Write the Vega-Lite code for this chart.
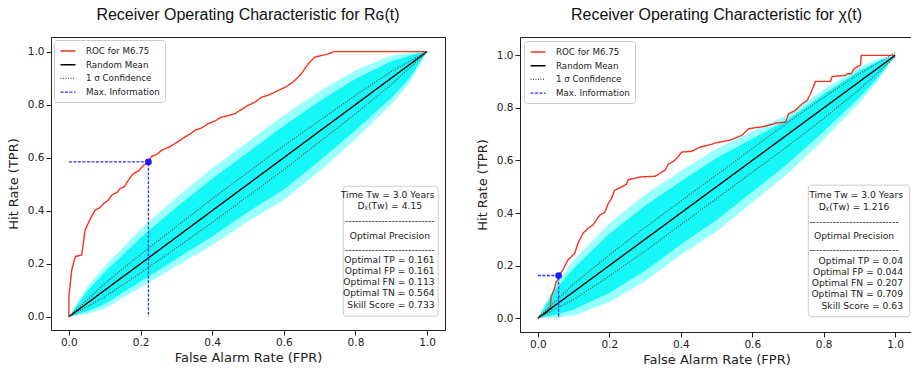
{
"$schema": "https://vega.github.io/schema/vega-lite/v6.json",
"padding": {"left": 6, "top": 6, "right": 0, "bottom": 0},
"spacing": 29,
"datasets": {
"lines": [
{"p":"L","s":"ROC for M6.75","g":"m","x":0,"y":0},{"p":"L","s":"ROC for M6.75","g":"m","x":0,"y":0.076},{"p":"L","s":"ROC for M6.75","g":"m","x":0.008,"y":0.177},{"p":"L","s":"ROC for M6.75","g":"m","x":0.018,"y":0.227},{"p":"L","s":"ROC for M6.75","g":"m","x":0.036,"y":0.233},{"p":"L","s":"ROC for M6.75","g":"m","x":0.045,"y":0.327},{"p":"L","s":"ROC for M6.75","g":"m","x":0.06,"y":0.37},{"p":"L","s":"ROC for M6.75","g":"m","x":0.073,"y":0.402},{"p":"L","s":"ROC for M6.75","g":"m","x":0.085,"y":0.41},{"p":"L","s":"ROC for M6.75","g":"m","x":0.097,"y":0.427},{"p":"L","s":"ROC for M6.75","g":"m","x":0.11,"y":0.44},{"p":"L","s":"ROC for M6.75","g":"m","x":0.12,"y":0.459},{"p":"L","s":"ROC for M6.75","g":"m","x":0.135,"y":0.47},{"p":"L","s":"ROC for M6.75","g":"m","x":0.143,"y":0.484},{"p":"L","s":"ROC for M6.75","g":"m","x":0.155,"y":0.49},{"p":"L","s":"ROC for M6.75","g":"m","x":0.166,"y":0.515},{"p":"L","s":"ROC for M6.75","g":"m","x":0.18,"y":0.54},{"p":"L","s":"ROC for M6.75","g":"m","x":0.195,"y":0.55},{"p":"L","s":"ROC for M6.75","g":"m","x":0.208,"y":0.571},{"p":"L","s":"ROC for M6.75","g":"m","x":0.222,"y":0.584},{"p":"L","s":"ROC for M6.75","g":"m","x":0.231,"y":0.605},{"p":"L","s":"ROC for M6.75","g":"m","x":0.245,"y":0.612},{"p":"L","s":"ROC for M6.75","g":"m","x":0.259,"y":0.628},{"p":"L","s":"ROC for M6.75","g":"m","x":0.28,"y":0.64},{"p":"L","s":"ROC for M6.75","g":"m","x":0.296,"y":0.653},{"p":"L","s":"ROC for M6.75","g":"m","x":0.31,"y":0.665},{"p":"L","s":"ROC for M6.75","g":"m","x":0.324,"y":0.678},{"p":"L","s":"ROC for M6.75","g":"m","x":0.34,"y":0.69},{"p":"L","s":"ROC for M6.75","g":"m","x":0.352,"y":0.703},{"p":"L","s":"ROC for M6.75","g":"m","x":0.37,"y":0.712},{"p":"L","s":"ROC for M6.75","g":"m","x":0.389,"y":0.728},{"p":"L","s":"ROC for M6.75","g":"m","x":0.41,"y":0.74},{"p":"L","s":"ROC for M6.75","g":"m","x":0.426,"y":0.753},{"p":"L","s":"ROC for M6.75","g":"m","x":0.445,"y":0.758},{"p":"L","s":"ROC for M6.75","g":"m","x":0.463,"y":0.766},{"p":"L","s":"ROC for M6.75","g":"m","x":0.48,"y":0.78},{"p":"L","s":"ROC for M6.75","g":"m","x":0.5,"y":0.797},{"p":"L","s":"ROC for M6.75","g":"m","x":0.52,"y":0.81},{"p":"L","s":"ROC for M6.75","g":"m","x":0.538,"y":0.828},{"p":"L","s":"ROC for M6.75","g":"m","x":0.555,"y":0.835},{"p":"L","s":"ROC for M6.75","g":"m","x":0.575,"y":0.847},{"p":"L","s":"ROC for M6.75","g":"m","x":0.595,"y":0.86},{"p":"L","s":"ROC for M6.75","g":"m","x":0.612,"y":0.872},{"p":"L","s":"ROC for M6.75","g":"m","x":0.63,"y":0.89},{"p":"L","s":"ROC for M6.75","g":"m","x":0.649,"y":0.916},{"p":"L","s":"ROC for M6.75","g":"m","x":0.658,"y":0.935},{"p":"L","s":"ROC for M6.75","g":"m","x":0.668,"y":0.953},{"p":"L","s":"ROC for M6.75","g":"m","x":0.686,"y":0.979},{"p":"L","s":"ROC for M6.75","g":"m","x":0.705,"y":0.985},{"p":"L","s":"ROC for M6.75","g":"m","x":0.723,"y":0.991},{"p":"L","s":"ROC for M6.75","g":"m","x":0.74,"y":1.0},{"p":"L","s":"ROC for M6.75","g":"m","x":1.0,"y":1.0},
{"p":"L","s":"Random Mean","g":"m","x":0,"y":0},{"p":"L","s":"Random Mean","g":"m","x":1,"y":1},
{"p":"L","s":"1 σ Confidence","g":"u","x":0,"y":0},{"p":"L","s":"1 σ Confidence","g":"u","x":0.1,"y":0.125},{"p":"L","s":"1 σ Confidence","g":"u","x":0.2,"y":0.235},{"p":"L","s":"1 σ Confidence","g":"u","x":0.3,"y":0.34},{"p":"L","s":"1 σ Confidence","g":"u","x":0.4,"y":0.445},{"p":"L","s":"1 σ Confidence","g":"u","x":0.5,"y":0.545},{"p":"L","s":"1 σ Confidence","g":"u","x":0.6,"y":0.645},{"p":"L","s":"1 σ Confidence","g":"u","x":0.7,"y":0.74},{"p":"L","s":"1 σ Confidence","g":"u","x":0.8,"y":0.835},{"p":"L","s":"1 σ Confidence","g":"u","x":0.9,"y":0.925},{"p":"L","s":"1 σ Confidence","g":"u","x":1,"y":1},
{"p":"L","s":"1 σ Confidence","g":"l","x":0,"y":0},{"p":"L","s":"1 σ Confidence","g":"l","x":0.1,"y":0.075},{"p":"L","s":"1 σ Confidence","g":"l","x":0.2,"y":0.165},{"p":"L","s":"1 σ Confidence","g":"l","x":0.3,"y":0.26},{"p":"L","s":"1 σ Confidence","g":"l","x":0.4,"y":0.355},{"p":"L","s":"1 σ Confidence","g":"l","x":0.5,"y":0.455},{"p":"L","s":"1 σ Confidence","g":"l","x":0.6,"y":0.555},{"p":"L","s":"1 σ Confidence","g":"l","x":0.7,"y":0.66},{"p":"L","s":"1 σ Confidence","g":"l","x":0.8,"y":0.765},{"p":"L","s":"1 σ Confidence","g":"l","x":0.9,"y":0.875},{"p":"L","s":"1 σ Confidence","g":"l","x":1,"y":1},
{"p":"L","s":"Max. Information","g":"m","x":0,"y":0.584},{"p":"L","s":"Max. Information","g":"m","x":0.222,"y":0.584},{"p":"L","s":"Max. Information","g":"m","x":0.222,"y":0},
{"p":"R","s":"ROC for M6.75","g":"m","x":0,"y":0},{"p":"R","s":"ROC for M6.75","g":"m","x":0.028,"y":0.024},{"p":"R","s":"ROC for M6.75","g":"m","x":0.035,"y":0.043},{"p":"R","s":"ROC for M6.75","g":"m","x":0.037,"y":0.081},{"p":"R","s":"ROC for M6.75","g":"m","x":0.047,"y":0.113},{"p":"R","s":"ROC for M6.75","g":"m","x":0.051,"y":0.138},{"p":"R","s":"ROC for M6.75","g":"m","x":0.056,"y":0.144},{"p":"R","s":"ROC for M6.75","g":"m","x":0.058,"y":0.162},{"p":"R","s":"ROC for M6.75","g":"m","x":0.07,"y":0.183},{"p":"R","s":"ROC for M6.75","g":"m","x":0.084,"y":0.221},{"p":"R","s":"ROC for M6.75","g":"m","x":0.103,"y":0.246},{"p":"R","s":"ROC for M6.75","g":"m","x":0.112,"y":0.284},{"p":"R","s":"ROC for M6.75","g":"m","x":0.126,"y":0.322},{"p":"R","s":"ROC for M6.75","g":"m","x":0.14,"y":0.341},{"p":"R","s":"ROC for M6.75","g":"m","x":0.154,"y":0.354},{"p":"R","s":"ROC for M6.75","g":"m","x":0.173,"y":0.392},{"p":"R","s":"ROC for M6.75","g":"m","x":0.187,"y":0.402},{"p":"R","s":"ROC for M6.75","g":"m","x":0.197,"y":0.436},{"p":"R","s":"ROC for M6.75","g":"m","x":0.206,"y":0.455},{"p":"R","s":"ROC for M6.75","g":"m","x":0.215,"y":0.487},{"p":"R","s":"ROC for M6.75","g":"m","x":0.234,"y":0.499},{"p":"R","s":"ROC for M6.75","g":"m","x":0.248,"y":0.51},{"p":"R","s":"ROC for M6.75","g":"m","x":0.253,"y":0.527},{"p":"R","s":"ROC for M6.75","g":"m","x":0.286,"y":0.537},{"p":"R","s":"ROC for M6.75","g":"m","x":0.328,"y":0.54},{"p":"R","s":"ROC for M6.75","g":"m","x":0.356,"y":0.563},{"p":"R","s":"ROC for M6.75","g":"m","x":0.365,"y":0.586},{"p":"R","s":"ROC for M6.75","g":"m","x":0.384,"y":0.601},{"p":"R","s":"ROC for M6.75","g":"m","x":0.403,"y":0.632},{"p":"R","s":"ROC for M6.75","g":"m","x":0.431,"y":0.635},{"p":"R","s":"ROC for M6.75","g":"m","x":0.454,"y":0.651},{"p":"R","s":"ROC for M6.75","g":"m","x":0.482,"y":0.66},{"p":"R","s":"ROC for M6.75","g":"m","x":0.501,"y":0.668},{"p":"R","s":"ROC for M6.75","g":"m","x":0.538,"y":0.677},{"p":"R","s":"ROC for M6.75","g":"m","x":0.571,"y":0.696},{"p":"R","s":"ROC for M6.75","g":"m","x":0.59,"y":0.721},{"p":"R","s":"ROC for M6.75","g":"m","x":0.632,"y":0.729},{"p":"R","s":"ROC for M6.75","g":"m","x":0.651,"y":0.736},{"p":"R","s":"ROC for M6.75","g":"m","x":0.669,"y":0.743},{"p":"R","s":"ROC for M6.75","g":"m","x":0.693,"y":0.746},{"p":"R","s":"ROC for M6.75","g":"m","x":0.702,"y":0.778},{"p":"R","s":"ROC for M6.75","g":"m","x":0.72,"y":0.79},{"p":"R","s":"ROC for M6.75","g":"m","x":0.74,"y":0.816},{"p":"R","s":"ROC for M6.75","g":"m","x":0.754,"y":0.829},{"p":"R","s":"ROC for M6.75","g":"m","x":0.763,"y":0.854},{"p":"R","s":"ROC for M6.75","g":"m","x":0.777,"y":0.901},{"p":"R","s":"ROC for M6.75","g":"m","x":0.819,"y":0.901},{"p":"R","s":"ROC for M6.75","g":"m","x":0.824,"y":0.92},{"p":"R","s":"ROC for M6.75","g":"m","x":0.861,"y":0.924},{"p":"R","s":"ROC for M6.75","g":"m","x":0.866,"y":0.93},{"p":"R","s":"ROC for M6.75","g":"m","x":0.877,"y":0.93},{"p":"R","s":"ROC for M6.75","g":"m","x":0.885,"y":0.949},{"p":"R","s":"ROC for M6.75","g":"m","x":0.896,"y":0.958},{"p":"R","s":"ROC for M6.75","g":"m","x":0.903,"y":0.962},{"p":"R","s":"ROC for M6.75","g":"m","x":0.905,"y":1.0},{"p":"R","s":"ROC for M6.75","g":"m","x":1.0,"y":1.0},
{"p":"R","s":"Random Mean","g":"m","x":0,"y":0},{"p":"R","s":"Random Mean","g":"m","x":1,"y":1},
{"p":"R","s":"1 σ Confidence","g":"u","x":0,"y":0},{"p":"R","s":"1 σ Confidence","g":"u","x":0.1,"y":0.13},{"p":"R","s":"1 σ Confidence","g":"u","x":0.2,"y":0.24},{"p":"R","s":"1 σ Confidence","g":"u","x":0.3,"y":0.345},{"p":"R","s":"1 σ Confidence","g":"u","x":0.4,"y":0.445},{"p":"R","s":"1 σ Confidence","g":"u","x":0.5,"y":0.545},{"p":"R","s":"1 σ Confidence","g":"u","x":0.6,"y":0.645},{"p":"R","s":"1 σ Confidence","g":"u","x":0.7,"y":0.745},{"p":"R","s":"1 σ Confidence","g":"u","x":0.8,"y":0.84},{"p":"R","s":"1 σ Confidence","g":"u","x":0.9,"y":0.93},{"p":"R","s":"1 σ Confidence","g":"u","x":1,"y":1.01},
{"p":"R","s":"1 σ Confidence","g":"l","x":0,"y":0},{"p":"R","s":"1 σ Confidence","g":"l","x":0.1,"y":0.07},{"p":"R","s":"1 σ Confidence","g":"l","x":0.2,"y":0.16},{"p":"R","s":"1 σ Confidence","g":"l","x":0.3,"y":0.255},{"p":"R","s":"1 σ Confidence","g":"l","x":0.4,"y":0.355},{"p":"R","s":"1 σ Confidence","g":"l","x":0.5,"y":0.455},{"p":"R","s":"1 σ Confidence","g":"l","x":0.6,"y":0.555},{"p":"R","s":"1 σ Confidence","g":"l","x":0.7,"y":0.655},{"p":"R","s":"1 σ Confidence","g":"l","x":0.8,"y":0.76},{"p":"R","s":"1 σ Confidence","g":"l","x":0.9,"y":0.87},{"p":"R","s":"1 σ Confidence","g":"l","x":1,"y":0.995},
{"p":"R","s":"Max. Information","g":"m","x":0,"y":0.162},{"p":"R","s":"Max. Information","g":"m","x":0.058,"y":0.162},{"p":"R","s":"Max. Information","g":"m","x":0.058,"y":0}
],
"band": [
{"p":"L","x":0,"lo":0,"hi":0,"clo":0,"chi":0},{"p":"L","x":0.05,"lo":0.01,"hi":0.11,"clo":0.02,"chi":0.095},{"p":"L","x":0.1,"lo":0.03,"hi":0.19,"clo":0.048,"chi":0.168},{"p":"L","x":0.2,"lo":0.11,"hi":0.33,"clo":0.133,"chi":0.298},{"p":"L","x":0.3,"lo":0.19,"hi":0.45,"clo":0.218,"chi":0.413},{"p":"L","x":0.4,"lo":0.27,"hi":0.56,"clo":0.303,"chi":0.52},{"p":"L","x":0.5,"lo":0.36,"hi":0.66,"clo":0.395,"chi":0.62},{"p":"L","x":0.6,"lo":0.44,"hi":0.76,"clo":0.48,"chi":0.72},{"p":"L","x":0.7,"lo":0.55,"hi":0.85,"clo":0.588,"chi":0.813},{"p":"L","x":0.8,"lo":0.67,"hi":0.93,"clo":0.703,"chi":0.898},{"p":"L","x":0.9,"lo":0.8,"hi":0.985,"clo":0.825,"chi":0.964},{"p":"L","x":0.95,"lo":0.88,"hi":0.995,"clo":0.898,"chi":0.984},{"p":"L","x":1,"lo":1,"hi":1,"clo":1,"chi":1},
{"p":"R","x":0,"lo":0,"hi":0,"clo":0,"chi":0},{"p":"R","x":0.05,"lo":0.0,"hi":0.13,"clo":0.013,"chi":0.11},{"p":"R","x":0.1,"lo":0.01,"hi":0.22,"clo":0.033,"chi":0.19},{"p":"R","x":0.2,"lo":0.06,"hi":0.36,"clo":0.095,"chi":0.32},{"p":"R","x":0.3,"lo":0.14,"hi":0.47,"clo":0.18,"chi":0.428},{"p":"R","x":0.4,"lo":0.24,"hi":0.56,"clo":0.28,"chi":0.52},{"p":"R","x":0.5,"lo":0.33,"hi":0.645,"clo":0.373,"chi":0.609},{"p":"R","x":0.6,"lo":0.44,"hi":0.71,"clo":0.48,"chi":0.683},{"p":"R","x":0.7,"lo":0.55,"hi":0.775,"clo":0.588,"chi":0.756},{"p":"R","x":0.8,"lo":0.68,"hi":0.87,"clo":0.71,"chi":0.853},{"p":"R","x":0.9,"lo":0.82,"hi":0.955,"clo":0.84,"chi":0.941},{"p":"R","x":0.95,"lo":0.9,"hi":0.985,"clo":0.913,"chi":0.976},{"p":"R","x":1,"lo":1,"hi":1,"clo":1,"chi":1}
],
"pts": [{"p":"L","x":0.222,"y":0.584},{"p":"R","x":0.058,"y":0.162}],
"boxes": [{"p":"L","x":0.766,"x2":1.031,"y":0.002,"y2":0.492},{"p":"R","x":0.757,"x2":1.041,"y":0.005,"y2":0.506}],
"notes": [
{"p":"L","a":"r","x":1.021,"y":0.46,"t":"Time Tᴡ = 3.0 Years"},
{"p":"L","a":"c","x":0.896,"y":0.416,"t":"Dᵪ(Tᴡ) = 4.15"},
{"p":"L","a":"c","x":0.896,"y":0.36,"t":"---------------------------"},
{"p":"L","a":"c","x":0.896,"y":0.303,"t":"Optimal Precision"},
{"p":"L","a":"c","x":0.896,"y":0.253,"t":"---------------------------"},
{"p":"L","a":"r","x":1.021,"y":0.213,"t":"Optimal TP = 0.161"},
{"p":"L","a":"r","x":1.021,"y":0.172,"t":"Optimal FP = 0.161"},
{"p":"L","a":"r","x":1.021,"y":0.13,"t":"Optimal FN = 0.113"},
{"p":"L","a":"r","x":1.021,"y":0.088,"t":"Optimal TN = 0.564"},
{"p":"L","a":"r","x":1.021,"y":0.043,"t":"Skill Score = 0.733"},
{"p":"R","a":"r","x":1.022,"y":0.468,"t":"Time Tᴡ = 3.0 Years"},
{"p":"R","a":"c","x":0.885,"y":0.423,"t":"Dᵪ(Tᴡ) = 1.216"},
{"p":"R","a":"c","x":0.885,"y":0.366,"t":"---------------------------"},
{"p":"R","a":"c","x":0.885,"y":0.312,"t":"Optimal Precision"},
{"p":"R","a":"c","x":0.885,"y":0.259,"t":"---------------------------"},
{"p":"R","a":"r","x":1.022,"y":0.217,"t":"Optimal TP = 0.04"},
{"p":"R","a":"r","x":1.022,"y":0.176,"t":"Optimal FP = 0.044"},
{"p":"R","a":"r","x":1.022,"y":0.132,"t":"Optimal FN = 0.207"},
{"p":"R","a":"r","x":1.022,"y":0.09,"t":"Optimal TN = 0.709"},
{"p":"R","a":"r","x":1.022,"y":0.046,"t":"Skill Score = 0.63"}
]
},
"config": {
"view": {"stroke": "#222222", "strokeWidth": 1},
"axis": {"domain": false, "grid": false, "labelFont": "DejaVu Sans", "labelFontSize": 10.5, "labelColor": "#222222", "titleFont": "DejaVu Sans", "titleFontSize": 13, "titleFontWeight": "normal", "titleColor": "#222222", "tickColor": "#222222", "labelPadding": 2, "labelFlush": false, "labelOverlap": false},
"axisX": {"titlePadding": 4},
"axisY": {"titlePadding": 7},
"title": {"font": "Liberation Sans", "fontSize": 16, "fontWeight": "normal", "color": "#111111", "offset": 14, "anchor": "middle"}
},
"resolve": {
"scale": {"x": "independent", "y": "independent", "color": "independent", "strokeDash": "independent", "strokeWidth": "independent"},
"legend": {"color": "independent", "strokeDash": "independent", "strokeWidth": "independent"}
},
"hconcat": [
{
"width": 394, "height": 293,
"title": "Receiver Operating Characteristic for Rɢ(t)",
"layer": [
{"data": {"name": "band"}, "transform": [{"filter": "datum.p=='L'"}],
 "mark": {"type": "area", "color": "#00ffff", "opacity": 0.4},
 "encoding": {
  "x": {"field": "x", "type": "quantitative", "scale": {"domain": [-0.05, 1.05], "nice": false, "zero": false},
   "axis": {"title": "False Alarm Rate (FPR)", "values": [0,0.05,0.1,0.15,0.2,0.25,0.3,0.35,0.4,0.45,0.5,0.55,0.6,0.65,0.7,0.75,0.8,0.85,0.9,0.95,1],
    "labelExpr": "abs(datum.value*5 - round(datum.value*5)) < 0.001 ? format(datum.value, '.1f') : ''",
    "tickSize": {"condition": {"test": "abs(datum.value*5 - round(datum.value*5)) < 0.001", "value": 5}, "value": 2.5}}},
  "y": {"field": "lo", "type": "quantitative", "scale": {"domain": [-0.05, 1.055], "nice": false, "zero": false},
   "axis": {"title": "Hit Rate (TPR)", "values": [0,0.05,0.1,0.15,0.2,0.25,0.3,0.35,0.4,0.45,0.5,0.55,0.6,0.65,0.7,0.75,0.8,0.85,0.9,0.95,1],
    "labelExpr": "abs(datum.value*5 - round(datum.value*5)) < 0.001 ? format(datum.value, '.1f') : ''",
    "tickSize": {"condition": {"test": "abs(datum.value*5 - round(datum.value*5)) < 0.001", "value": 5}, "value": 2.5}}},
  "y2": {"field": "hi"}}},
{"data": {"name": "band"}, "transform": [{"filter": "datum.p=='L'"}],
 "mark": {"type": "area", "color": "#08f6f6", "opacity": 0.9},
 "encoding": {"x": {"field": "x", "type": "quantitative"}, "y": {"field": "clo", "type": "quantitative"}, "y2": {"field": "chi"}}},
{"data": {"name": "lines"}, "transform": [{"filter": "datum.p=='L'"}, {"window": [{"op": "row_number", "as": "i"}]}],
 "mark": {"type": "line"},
 "encoding": {
  "x": {"field": "x", "type": "quantitative"},
  "y": {"field": "y", "type": "quantitative"},
  "detail": {"field": "g"},
  "order": {"field": "i", "type": "quantitative"},
  "color": {"field": "s", "type": "nominal", "scale": {"domain": ["ROC for M6.75", "Random Mean", "1 σ Confidence", "Max. Information"], "range": ["#f8321f", "#000000", "#555555", "#2035ff"]},
   "legend": {"title": null, "orient": "top-left", "offset": 3, "symbolType": "M-0.9,0H2.1", "symbolSize": 100, "labelFont": "DejaVu Sans", "labelFontSize": 8.7, "labelColor": "#222222", "labelOffset": 15, "rowPadding": 2.7, "padding": 5, "fillColor": "white", "strokeColor": "#cccccc", "cornerRadius": 3}},
  "strokeDash": {"field": "s", "type": "nominal", "scale": {"domain": ["ROC for M6.75", "Random Mean", "1 σ Confidence", "Max. Information"], "range": [[1, 0], [1, 0], [1, 1.5], [3, 1.5]]}},
  "strokeWidth": {"field": "s", "type": "nominal", "scale": {"domain": ["ROC for M6.75", "Random Mean", "1 σ Confidence", "Max. Information"], "range": [1.4, 1.3, 0.8, 1.1]}}}},
{"data": {"name": "pts"}, "transform": [{"filter": "datum.p=='L'"}],
 "mark": {"type": "point", "filled": true, "color": "#1a1aff", "opacity": 1, "size": 45},
 "encoding": {"x": {"field": "x", "type": "quantitative"}, "y": {"field": "y", "type": "quantitative"}}},
{"data": {"name": "boxes"}, "transform": [{"filter": "datum.p=='L'"}],
 "mark": {"type": "rect", "fill": "white", "stroke": "#cccccc", "strokeWidth": 1, "cornerRadius": 3},
 "encoding": {"x": {"field": "x", "type": "quantitative"}, "x2": {"field": "x2"}, "y": {"field": "y", "type": "quantitative"}, "y2": {"field": "y2"}}},
{"data": {"name": "notes"}, "transform": [{"filter": "datum.p=='L' && datum.a=='r'"}],
 "mark": {"type": "text", "align": "right", "baseline": "middle", "font": "DejaVu Sans", "fontSize": 9.2, "color": "#222222"},
 "encoding": {"x": {"field": "x", "type": "quantitative"}, "y": {"field": "y", "type": "quantitative"}, "text": {"field": "t"}}},
{"data": {"name": "notes"}, "transform": [{"filter": "datum.p=='L' && datum.a=='c'"}],
 "mark": {"type": "text", "align": "center", "baseline": "middle", "font": "DejaVu Sans", "fontSize": 9.2, "color": "#222222"},
 "encoding": {"x": {"field": "x", "type": "quantitative"}, "y": {"field": "y", "type": "quantitative"}, "text": {"field": "t"}}}
]
},
{
"width": 393, "height": 295,
"title": "Receiver Operating Characteristic for χ(t)",
"layer": [
{"data": {"name": "band"}, "transform": [{"filter": "datum.p=='R'"}],
 "mark": {"type": "area", "color": "#00ffff", "opacity": 0.4},
 "encoding": {
  "x": {"field": "x", "type": "quantitative", "scale": {"domain": [-0.05, 1.05], "nice": false, "zero": false},
   "axis": {"title": "False Alarm Rate (FPR)", "values": [0,0.05,0.1,0.15,0.2,0.25,0.3,0.35,0.4,0.45,0.5,0.55,0.6,0.65,0.7,0.75,0.8,0.85,0.9,0.95,1],
    "labelExpr": "abs(datum.value*5 - round(datum.value*5)) < 0.001 ? format(datum.value, '.1f') : ''",
    "tickSize": {"condition": {"test": "abs(datum.value*5 - round(datum.value*5)) < 0.001", "value": 5}, "value": 2.5}}},
  "y": {"field": "lo", "type": "quantitative", "scale": {"domain": [-0.053, 1.07], "nice": false, "zero": false},
   "axis": {"title": "Hit Rate (TPR)", "values": [0,0.05,0.1,0.15,0.2,0.25,0.3,0.35,0.4,0.45,0.5,0.55,0.6,0.65,0.7,0.75,0.8,0.85,0.9,0.95,1],
    "labelExpr": "abs(datum.value*5 - round(datum.value*5)) < 0.001 ? format(datum.value, '.1f') : ''",
    "tickSize": {"condition": {"test": "abs(datum.value*5 - round(datum.value*5)) < 0.001", "value": 5}, "value": 2.5}}},
  "y2": {"field": "hi"}}},
{"data": {"name": "band"}, "transform": [{"filter": "datum.p=='R'"}],
 "mark": {"type": "area", "color": "#08f6f6", "opacity": 0.9},
 "encoding": {"x": {"field": "x", "type": "quantitative"}, "y": {"field": "clo", "type": "quantitative"}, "y2": {"field": "chi"}}},
{"data": {"name": "lines"}, "transform": [{"filter": "datum.p=='R'"}, {"window": [{"op": "row_number", "as": "i"}]}],
 "mark": {"type": "line"},
 "encoding": {
  "x": {"field": "x", "type": "quantitative"},
  "y": {"field": "y", "type": "quantitative"},
  "detail": {"field": "g"},
  "order": {"field": "i", "type": "quantitative"},
  "color": {"field": "s", "type": "nominal", "scale": {"domain": ["ROC for M6.75", "Random Mean", "1 σ Confidence", "Max. Information"], "range": ["#f8321f", "#000000", "#555555", "#2035ff"]},
   "legend": {"title": null, "orient": "top-left", "offset": 4, "symbolType": "M-0.9,0H2.1", "symbolSize": 100, "labelFont": "DejaVu Sans", "labelFontSize": 8.7, "labelColor": "#222222", "labelOffset": 15, "rowPadding": 2.7, "padding": 5, "fillColor": "white", "strokeColor": "#cccccc", "cornerRadius": 3}},
  "strokeDash": {"field": "s", "type": "nominal", "scale": {"domain": ["ROC for M6.75", "Random Mean", "1 σ Confidence", "Max. Information"], "range": [[1, 0], [1, 0], [1, 1.5], [3, 1.5]]}},
  "strokeWidth": {"field": "s", "type": "nominal", "scale": {"domain": ["ROC for M6.75", "Random Mean", "1 σ Confidence", "Max. Information"], "range": [1.4, 1.3, 0.8, 1.1]}}}},
{"data": {"name": "pts"}, "transform": [{"filter": "datum.p=='R'"}],
 "mark": {"type": "point", "filled": true, "color": "#1a1aff", "opacity": 1, "size": 45},
 "encoding": {"x": {"field": "x", "type": "quantitative"}, "y": {"field": "y", "type": "quantitative"}}},
{"data": {"name": "boxes"}, "transform": [{"filter": "datum.p=='R'"}],
 "mark": {"type": "rect", "fill": "white", "stroke": "#cccccc", "strokeWidth": 1, "cornerRadius": 3},
 "encoding": {"x": {"field": "x", "type": "quantitative"}, "x2": {"field": "x2"}, "y": {"field": "y", "type": "quantitative"}, "y2": {"field": "y2"}}},
{"data": {"name": "notes"}, "transform": [{"filter": "datum.p=='R' && datum.a=='r'"}],
 "mark": {"type": "text", "align": "right", "baseline": "middle", "font": "DejaVu Sans", "fontSize": 9.2, "color": "#222222"},
 "encoding": {"x": {"field": "x", "type": "quantitative"}, "y": {"field": "y", "type": "quantitative"}, "text": {"field": "t"}}},
{"data": {"name": "notes"}, "transform": [{"filter": "datum.p=='R' && datum.a=='c'"}],
 "mark": {"type": "text", "align": "center", "baseline": "middle", "font": "DejaVu Sans", "fontSize": 9.2, "color": "#222222"},
 "encoding": {"x": {"field": "x", "type": "quantitative"}, "y": {"field": "y", "type": "quantitative"}, "text": {"field": "t"}}}
]
}
]
}
